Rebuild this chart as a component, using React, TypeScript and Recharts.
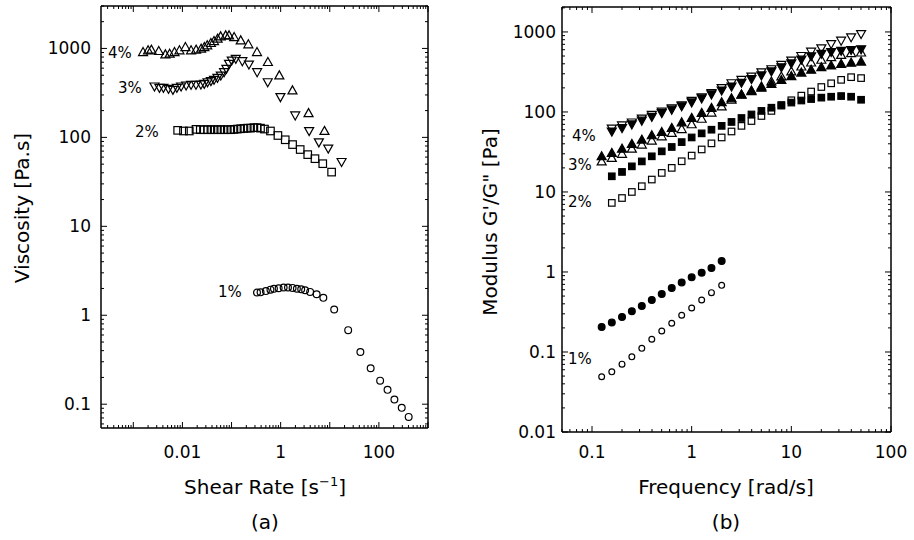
import { ScatterChart, Scatter, XAxis, YAxis } from 'recharts';

// (a) steady shear viscosity
const SHEAR_4 = [0.00158, 0.002, 0.00233, 0.0033, 0.0045, 0.0055, 0.0069, 0.0087, 0.0115, 0.015, 0.019, 0.024, 0.028, 0.032, 0.038, 0.044, 0.052, 0.06, 0.076, 0.089, 0.113, 0.154, 0.22, 0.33, 0.55, 0.94, 1.74, 3.7, 7.8];
const VISC_4 = [908, 950, 967, 933, 856, 871, 908, 950, 1034, 950, 967, 992, 1034, 1081, 1148, 1208, 1285, 1364, 1400, 1400, 1340, 1230, 1110, 908, 702, 497, 337, 187, 118];

const SHEAR_3 = [0.0027, 0.0034, 0.0041, 0.0052, 0.0064, 0.0077, 0.0094, 0.0119, 0.015, 0.0189, 0.0238, 0.0278, 0.0325, 0.038, 0.044, 0.0516, 0.0605, 0.0705, 0.0785, 0.089, 0.101, 0.122, 0.166, 0.226, 0.332, 0.546, 0.99, 1.98, 3.8, 6.0, 9.3, 17.4];
const VISC_3 = [374, 361, 361, 352, 343, 361, 374, 384, 391, 391, 394, 401, 418, 430, 445, 468, 497, 542, 591, 673, 733, 766, 720, 661, 542, 418, 284, 177, 118, 88, 75, 53];

const SHEAR_2 = [0.008, 0.0105, 0.0138, 0.0189, 0.0231, 0.0278, 0.0325, 0.038, 0.0443, 0.0516, 0.0605, 0.0705, 0.082, 0.0964, 0.112, 0.131, 0.153, 0.179, 0.209, 0.244, 0.285, 0.332, 0.389, 0.468, 0.62, 0.88, 1.24, 1.75, 2.5, 3.56, 5.0, 7.2, 10.9];
const VISC_2 = [120, 118, 118, 123, 122, 122, 122, 122, 122, 122, 122, 122, 122, 122, 123, 124, 125, 126, 127, 127, 128.6, 128.6, 127, 124, 118, 105, 94, 83, 73, 64, 57.6, 50.6, 40.7];

const SHEAR_1 = [0.33, 0.39, 0.5, 0.62, 0.73, 0.91, 1.15, 1.41, 1.75, 2.14, 2.62, 3.15, 3.98, 5.4, 7.4, 12.3, 23.7, 42, 68, 106, 150, 207, 292, 404];
const VISC_1 = [1.8, 1.81, 1.87, 1.94, 1.98, 2.01, 2.05, 2.05, 2.03, 1.99, 1.96, 1.91, 1.83, 1.72, 1.57, 1.16, 0.68, 0.387, 0.254, 0.184, 0.145, 0.113, 0.091, 0.072];

// (b) oscillatory moduli; filled = G', open = G"
const FREQ = [0.125, 0.158, 0.2, 0.251, 0.316, 0.398, 0.501, 0.631, 0.794, 1, 1.26, 1.58, 2, 2.51, 3.16, 3.98, 5.01, 6.31, 7.94, 10, 12.6, 15.8, 20, 25.1, 31.6, 39.8, 50.1];
const G4_FILLED = [57, 63, 70, 78, 87, 97, 107, 118, 132, 148, 166, 186, 208, 232, 258, 287, 322, 362, 405, 452, 498, 535, 562, 582, 596, 608];
const G4_OPEN = [62, 68, 74, 83, 92, 101, 111, 121, 138, 153, 172, 199, 229, 252, 277, 314, 343, 388, 439, 502, 568, 625, 708, 779, 859, 944];
const G3_FILLED = [27.9, 30.7, 34.7, 39.8, 45, 51, 56, 63, 74, 84, 97, 112, 132, 148, 165, 182, 200, 224, 250, 280, 310, 336, 362, 380, 398, 412, 425];
const G3_OPEN = [24, 26.6, 29.9, 34.7, 39, 43.8, 49.5, 54.6, 61, 70, 82, 98, 117, 142, 164, 185, 208, 240, 277, 320, 369, 414, 448, 483, 516, 542, 552];
const G2_FILLED = [15.7, 17.8, 20.9, 24.1, 27.9, 32.2, 36.5, 42, 48, 54, 60, 67, 75, 84, 93, 103, 113, 122, 131, 139, 145, 151, 155, 158, 155, 142];
const G2_OPEN = [7.3, 8.4, 10, 11.8, 14.3, 17.3, 20, 24.2, 28.5, 34, 40.5, 48, 57, 67, 77, 89, 103, 120, 140, 160, 180, 205, 228, 252, 272, 265];
const G1_FILLED = [0.206, 0.233, 0.274, 0.323, 0.376, 0.447, 0.53, 0.63, 0.741, 0.857, 0.98, 1.12, 1.37];
const G1_OPEN = [0.049, 0.0565, 0.0705, 0.087, 0.111, 0.144, 0.183, 0.229, 0.288, 0.355, 0.447, 0.552, 0.681];

// tick labels
const SHEAR_LABELS = [0.01, 1, 100];
const VISC_LABELS = [0.1, 1, 10, 100, 1000];
const FREQ_LABELS = [0.1, 1, 10, 100];
const MOD_LABELS = [0.01, 0.1, 1, 10, 100, 1000];

const SHEAR_DOMAIN = [0.00022, 1000];
const VISC_DOMAIN = [0.054, 3000];
const FREQ_DOMAIN = [0.05, 100];
const MOD_DOMAIN = [0.01, 2050];

const FONT = '"DejaVu Sans", sans-serif';
const AXIS = { stroke: '#000', strokeWidth: 1.5 };

const pts = (xs: number[], ys: number[]) => ys.map((y, i) => ({ x: xs[i], y }));

// every 1..9 x 10^k inside the domain (minor + major tick marks)
function logTicks([lo, hi]: number[]) {
  const out: number[] = [];
  for (let e = Math.floor(Math.log10(lo)); e <= Math.ceil(Math.log10(hi)); e++) {
    for (let m = 1; m <= 9; m++) {
      const v = Number((m * Math.pow(10, e)).toPrecision(6));
      if (v >= lo * 0.999 && v <= hi * 1.001) out.push(v);
    }
  }
  return out;
}

const isDecade = (v: number) => Math.abs(Math.log10(v) - Math.round(Math.log10(v))) < 1e-6;

function makeTick(side: 'bottom' | 'top' | 'left' | 'right', labels: number[], gap: number) {
  return (props: any) => {
    const { x, y, payload } = props;
    const v = payload.value as number;
    const len = isDecade(v) ? 6 : 3;
    const label = labels.find((l) => Math.abs(l - v) / l < 1e-6);
    let line;
    if (side === 'bottom') line = <line x1={x} y1={y} x2={x} y2={y - len} stroke="#000" />;
    else if (side === 'top') line = <line x1={x} y1={y} x2={x} y2={y + len} stroke="#000" />;
    else if (side === 'left') line = <line x1={x} y1={y} x2={x + len} y2={y} stroke="#000" />;
    else line = <line x1={x} y1={y} x2={x - len} y2={y} stroke="#000" />;
    return (
      <g>
        {line}
        {label !== undefined && side === 'bottom' && (
          <text x={x} y={y + gap + 6} textAnchor="middle" fontSize={17} fontFamily={FONT} fill="#000">
            {String(label)}
          </text>
        )}
        {label !== undefined && side === 'left' && (
          <text x={x - gap} y={y + 6} textAnchor="end" fontSize={17} fontFamily={FONT} fill="#000">
            {String(label)}
          </text>
        )}
      </g>
    );
  };
}

const SW = 1.2;
const triUp = (filled: boolean) => (p: any) => (
  <path
    d={`M${p.cx},${p.cy - 4.6}L${p.cx + 4.5},${p.cy + 3.4}L${p.cx - 4.5},${p.cy + 3.4}Z`}
    fill={filled ? '#000' : 'none'}
    stroke="#000"
    strokeWidth={SW}
  />
);
const triDown = (filled: boolean) => (p: any) => (
  <path
    d={`M${p.cx},${p.cy + 4.6}L${p.cx + 4.5},${p.cy - 3.4}L${p.cx - 4.5},${p.cy - 3.4}Z`}
    fill={filled ? '#000' : 'none'}
    stroke="#000"
    strokeWidth={SW}
  />
);
const square = (filled: boolean, s: number) => (p: any) => (
  <rect x={p.cx - s / 2} y={p.cy - s / 2} width={s} height={s} fill={filled ? '#000' : 'none'} stroke="#000" strokeWidth={SW} />
);
const circle = (filled: boolean, r: number) => (p: any) => (
  <circle cx={p.cx} cy={p.cy} r={r} fill={filled ? '#000' : 'none'} stroke="#000" strokeWidth={SW} />
);

function Frame({ xDomain, yDomain, xLabels, yLabels, xGap, yGap }: any) {
  const xt = logTicks(xDomain);
  const yt = logTicks(yDomain);
  const common = { type: 'number' as const, scale: 'log' as const, allowDataOverflow: true, interval: 0 as const, tickLine: false, tickSize: 0, tickMargin: 0, axisLine: AXIS };
  return [
    <XAxis key="xb" xAxisId="b" dataKey="x" domain={xDomain} ticks={xt} tick={makeTick('bottom', xLabels, xGap)} height={1} {...common} />,
    <XAxis key="xt" xAxisId="t" dataKey="x" orientation="top" mirror domain={xDomain} ticks={xt} tick={makeTick('top', [], 0)} height={1} {...common} />,
    <YAxis key="yl" yAxisId="l" dataKey="y" domain={yDomain} ticks={yt} tick={makeTick('left', yLabels, yGap)} width={1} {...common} />,
    <YAxis key="yr" yAxisId="r" dataKey="y" orientation="right" mirror domain={yDomain} ticks={yt} tick={makeTick('right', [], 0)} width={1} {...common} />,
  ];
}

function txt(x: number, y: number, s: string, size = 15, anchor = 'start') {
  return (
    <text x={x} y={y} fontSize={size} fontFamily={FONT} textAnchor={anchor} dominantBaseline="central" fill="#000">
      {s}
    </text>
  );
}

export default function App() {
  const sc = { xAxisId: 'b', yAxisId: 'l', isAnimationActive: false };
  return (
    <div style={{ position: 'absolute', left: 0, top: 0, width: 914, height: 540, background: '#fff' }}>
      <div style={{ position: 'absolute', left: 0, top: 0 }}>
        <ScatterChart width={450} height={540} margin={{ top: 6, right: 22, bottom: 111, left: 100 }}>
          {Frame({ xDomain: SHEAR_DOMAIN, yDomain: VISC_DOMAIN, xLabels: SHEAR_LABELS, yLabels: VISC_LABELS, xGap: 24, yGap: 10 })}
          <Scatter {...sc} data={pts(SHEAR_4, VISC_4)} shape={triUp(false)} />
          <Scatter {...sc} data={pts(SHEAR_3, VISC_3)} shape={triDown(false)} />
          <Scatter {...sc} data={pts(SHEAR_2, VISC_2)} shape={square(false, 7.5)} />
          <Scatter {...sc} data={pts(SHEAR_1, VISC_1)} shape={circle(false, 3.4)} />
        </ScatterChart>
      </div>
      <div style={{ position: 'absolute', left: 450, top: 0 }}>
        <ScatterChart width={464} height={540} margin={{ top: 7, right: 23, bottom: 107, left: 111 }}>
          {Frame({ xDomain: FREQ_DOMAIN, yDomain: MOD_DOMAIN, xLabels: FREQ_LABELS, yLabels: MOD_LABELS, xGap: 20, yGap: 6 })}
          <Scatter {...sc} data={pts(FREQ.slice(1), G4_OPEN)} shape={triDown(false)} />
          <Scatter {...sc} data={pts(FREQ, G3_OPEN)} shape={triUp(false)} />
          <Scatter {...sc} data={pts(FREQ.slice(1), G2_OPEN)} shape={square(false, 6.5)} />
          <Scatter {...sc} data={pts(FREQ, G1_OPEN)} shape={circle(false, 2.9)} />
          <Scatter {...sc} data={pts(FREQ.slice(1), G4_FILLED)} shape={triDown(true)} />
          <Scatter {...sc} data={pts(FREQ, G3_FILLED)} shape={triUp(true)} />
          <Scatter {...sc} data={pts(FREQ.slice(1), G2_FILLED)} shape={square(true, 6.5)} />
          <Scatter {...sc} data={pts(FREQ, G1_FILLED)} shape={circle(true, 3.4)} />
        </ScatterChart>
      </div>
      <svg width={914} height={540} style={{ position: 'absolute', left: 0, top: 0, pointerEvents: 'none' }}>
        <text transform="translate(22,208) rotate(-90)" fontSize={20} fontFamily={FONT} textAnchor="middle" dominantBaseline="central">
          Viscosity [Pa.s]
        </text>
        <text x={265} y={494} fontSize={20} fontFamily={FONT} textAnchor="middle">
          Shear Rate [s<tspan dy={-8} fontSize={13}>−1</tspan><tspan dy={8}>]</tspan>
        </text>
        {txt(265, 522, '(a)', 20, 'middle')}
        <text transform="translate(490,222) rotate(-90)" fontSize={20} fontFamily={FONT} textAnchor="middle" dominantBaseline="central">
          Modulus G'/G" [Pa]
        </text>
        {txt(726, 487, 'Frequency [rad/s]', 20, 'middle')}
        {txt(726, 522, '(b)', 20, 'middle')}
        {txt(108, 53, '4%')}
        {txt(118, 88, '3%')}
        {txt(135, 132, '2%')}
        {txt(218, 292, '1%')}
        {txt(572, 136, '4%')}
        {txt(568, 165, '3%')}
        {txt(568, 202, '2%')}
        {txt(568, 359, '1%')}
      </svg>
    </div>
  );
}
